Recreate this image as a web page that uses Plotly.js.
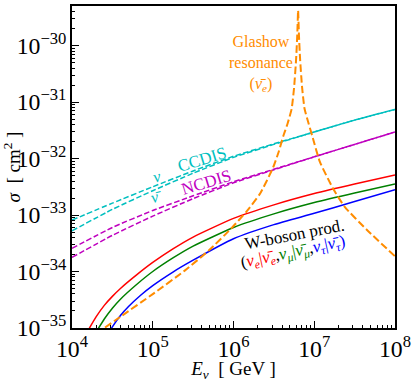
<!DOCTYPE html>
<html>
<head>
<meta charset="utf-8">
<script src="https://cdn.plot.ly/plotly-3.0.1.min.js"></script>
<style>
  html, body { margin: 0; padding: 0; background: #fff; }
  #plot { width: 415px; height: 382px; }
</style>
</head>
<body>
<div id="plot"></div>
<script>
// all values, as log10(E/GeV) and log10(sigma/cm^2)

// DIS cross sections
const disLogE = [4.0, 4.5, 5.0, 5.5, 6.0, 6.5, 7.0, 7.5, 8.0];
const ccNu    = [-33.09, -32.79, -32.50, -32.22, -31.96, -31.74, -31.53, -31.32, -31.13];
const ccNubar = [-33.28, -32.90, -32.57, -32.26, -31.98, -31.75, -31.53, -31.32, -31.13];
const ncNu    = [-33.59, -33.22, -32.92, -32.66, -32.41, -32.19, -31.97, -31.75, -31.53];
const ncNubar = [-33.75, -33.36, -33.02, -32.71, -32.43, -32.20, -31.97, -31.75, -31.53];

// W-boson production (nu_e, nu_mu, nu_tau)
const wLogE_e = [4.20, 4.30, 4.40, 4.50, 4.60, 4.80, 5.00, 5.25, 5.50, 6.00, 6.50, 7.00, 7.50, 8.00];
const wSig_e  = [-35.04, -34.80, -34.60, -34.44, -34.30, -34.06, -33.84, -33.60, -33.39, -33.06, -32.82, -32.62, -32.45, -32.29];
const wLogE_mu = [4.30, 4.40, 4.50, 4.60, 4.80, 5.00, 5.25, 5.50, 6.00, 6.50, 7.00, 7.50, 8.00];
const wSig_mu  = [-35.07, -34.84, -34.65, -34.49, -34.23, -34.00, -33.76, -33.55, -33.22, -32.98, -32.78, -32.61, -32.45];
const wLogE_tau = [4.45, 4.50, 4.60, 4.70, 4.85, 5.00, 5.25, 5.50, 6.00, 6.50, 7.00, 7.50, 8.00];
const wSig_tau  = [-35.10, -34.98, -34.78, -34.62, -34.42, -34.25, -34.01, -33.80, -33.42, -33.17, -32.97, -32.76, -32.55];

// Glashow resonance (anti-nu_e)
const glLogE = [4.30, 4.60, 5.00, 5.40, 5.70, 5.97, 6.16, 6.33, 6.49, 6.56, 6.617, 6.67, 6.72, 6.75, 6.775, 6.79, 6.80, 6.81, 6.825, 6.85, 6.88, 6.93, 6.975, 7.07, 7.24, 7.38, 7.65, 8.00];
const glSig  = [-35.10, -34.80, -34.40, -33.98, -33.62, -33.24, -32.94, -32.62, -32.16, -31.88, -31.60, -31.38, -31.12, -30.75, -30.25, -29.80, -29.38, -29.80, -30.25, -30.75, -31.12, -31.38, -31.60, -32.06, -32.55, -32.86, -33.26, -33.73];

const pow10 = a => a.map(v => Math.pow(10, v));

const FONT = 'Liberation Serif';
const CYAN = '#00bfbf', MAG = '#bf00bf', ORANGE = '#ff8c00';

function line(logE, sig, color, dash, width) {
  return {
    x: pow10(logE), y: pow10(sig),
    type: 'scatter', mode: 'lines',
    line: { color: color, width: width || 1.5, dash: dash || 'solid', shape: 'spline', smoothing: 0.5 },
    hoverinfo: 'skip', showlegend: false
  };
}

const traces = [
  line(disLogE, ccNu, CYAN, '5.5px,2.5px'),
  line(disLogE, ccNubar, CYAN, '5.5px,2.5px'),
  line(disLogE, ncNu, MAG, '5.5px,2.5px'),
  line(disLogE, ncNubar, MAG, '5.5px,2.5px'),
  line(wLogE_e, wSig_e, '#ff0000'),
  line(wLogE_mu, wSig_mu, '#008000'),
  line(wLogE_tau, wSig_tau, '#0000ff'),
  line(glLogE, glSig, ORANGE, '7.5px,3.2px', 2)
];

const axisCommon = {
  type: 'log',
  dtick: 1,
  exponentformat: 'power',
  showgrid: false, zeroline: false,
  showline: true, mirror: true, linecolor: '#000', linewidth: 1.5,
  ticks: 'inside', ticklen: 7, tickwidth: 1.2, tickcolor: '#000',
  minor: { ticks: 'inside', ticklen: 3.5, tickwidth: 1, tickcolor: '#000', dtick: 'D1', showgrid: false },
  tickfont: { family: FONT, size: 19, color: '#000' }
};

function ann(text, lx, ly, color, angle, size) {
  return {
    text: text, x: lx, y: ly, xref: 'x', yref: 'y',
    showarrow: false, textangle: angle || 0,
    font: { family: FONT, size: size || 16, color: color }
  };
}

const layout = {
  width: 415, height: 382,
  font: { family: FONT, size: 16, color: '#000' },
  margin: { l: 72, r: 20, t: 6, b: 54 },
  paper_bgcolor: '#fff', plot_bgcolor: '#fff',
  showlegend: false,
  xaxis: Object.assign({}, axisCommon, {
    range: [4, 8],
    title: { text: '<i>E<sub>ν</sub></i>  [ GeV ]', font: { family: FONT, size: 19, color: '#000' }, standoff: 9 }
  }),
  yaxis: Object.assign({}, axisCommon, {
    range: [-35, -29.3],
    title: { text: '<i>σ</i>  [ cm<sup>2</sup> ]', font: { family: FONT, size: 19, color: '#000' }, standoff: 4 }
  }),
  annotations: [
    ann('CCDIS', 5.61, -32.02, CYAN, -17, 17),
    ann('NCDIS', 5.66, -32.43, MAG, -17, 17),
    ann('<i>ν</i>', 5.05, -32.31, CYAN, -15, 16),
    ann('<i>ν̄</i>', 5.05, -32.68, CYAN, -15, 16),
    ann('Glashow<br>resonance<br>(<i>ν̄<sub>e</sub></i>)', 6.34, -30.32, ORANGE, 0, 16),
    ann('W-boson prod.', 6.76, -33.35, '#000', -11, 17),
    ann('(<span style="color:#ff0000"><i>ν<sub>e</sub></i>|<i>ν̄<sub>e</sub></i></span>,' +
        '<span style="color:#008000"><i>ν<sub>μ</sub></i>|<i>ν̄<sub>μ</sub></i></span>,' +
        '<span style="color:#0000ff"><i>ν<sub>τ</sub></i>|<i>ν̄<sub>τ</sub></i>)</span>',
        6.74, -33.68, '#000', -12, 17)
  ]
};

Plotly.newPlot('plot', traces, layout, { displayModeBar: false }).then(gd => {
  // make sure every svg text uses the serif face
  gd.querySelectorAll('text, tspan').forEach(t => { t.style.fontFamily = "'Liberation Serif', serif"; });
});
</script>
</body>
</html>
